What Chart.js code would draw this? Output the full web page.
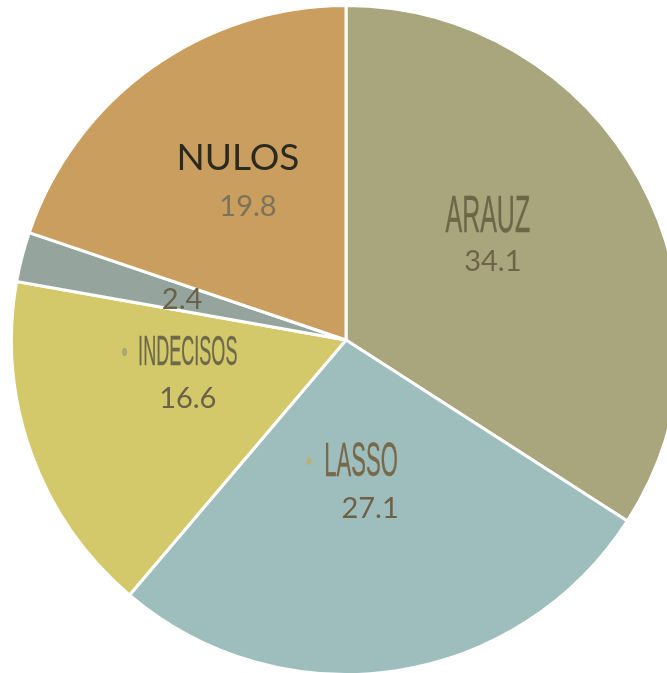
<!DOCTYPE html>
<html>
<head>
<meta charset="utf-8">
<script src="https://cdn.jsdelivr.net/npm/chart.js@4.4.0/dist/chart.umd.min.js"></script>
<style>
html,body{margin:0;padding:0;background:#fff;overflow:hidden;width:667px;height:673px;}
#wrap{position:absolute;left:0;top:0;width:692px;height:680px;}
</style>
</head>
<body>
<div id="wrap"><canvas id="c"></canvas></div>
<script>
// Data
const categories = ["ARAUZ", "LASSO", "INDECISOS", "", "NULOS"];
const values = [34.1, 27.1, 16.6, 2.4, 19.8];
const valueLabels = ["34.1", "27.1", "16.6", "2.4", "19.8"];
const colors = ["#A9A67D", "#9DBEBD", "#D3C96B", "#95A59E", "#C99E5E"];

// Label layout (relative to pie centre, in units of outer radius)
const nameOffsets = [[0.424,-0.365],[0.045,0.365],[-0.473,0.039],null,[-0.323,-0.545]];
const valueOffsets = [[0.439,-0.234],[0.072,0.503],[-0.473,0.174],[-0.490,-0.120],[-0.293,-0.398]];
const dotOffsets = [null,[-0.111,0.362],[-0.662,0.036],null,null];
const nameStyles = [
  {font:"52px 'Liberation Sans'", sx:0.48, color:"#6E6648", lw:0.4},
  {font:"49px 'Liberation Sans'", sx:0.45, color:"#77694A", lw:0.4},
  {font:"42px 'Liberation Sans'", sx:0.43, color:"#6D684A", lw:0.3},
  null,
  {font:"37px Lato", sx:1, color:"#2B2A21", lw:0}
];
const valueColors = ["#6E6548","#6E6146","#6B6048","#6B6048","#7B735A"];
const dotColors = [null,"#BDAF78","#A9A47E",null,null];

const labelPlugin = {
  id: 'labels',
  afterDatasetsDraw(chart) {
    const ctx = chart.ctx;
    const arcs = chart.getDatasetMeta(0).data;
    arcs.forEach((arc, i) => {
      const cx = arc.x, cy = arc.y, R = arc.outerRadius;
      ctx.save();
      ctx.textAlign = 'center';
      ctx.textBaseline = 'middle';
      if (nameOffsets[i] && nameStyles[i]) {
        const st = nameStyles[i];
        const x = cx + nameOffsets[i][0]*R, y = cy + nameOffsets[i][1]*R;
        ctx.save();
        ctx.translate(x, y);
        ctx.scale(st.sx, 1);
        ctx.font = st.font;
        ctx.fillStyle = st.color;
        ctx.fillText(categories[i], 0, 0);
        if (st.lw > 0) {
          ctx.strokeStyle = st.color;
          ctx.lineWidth = st.lw;
          ctx.lineJoin = 'round';
          ctx.strokeText(categories[i], 0, 0);
        }
        ctx.restore();
      }
      if (valueOffsets[i]) {
        const x = cx + valueOffsets[i][0]*R, y = cy + valueOffsets[i][1]*R;
        ctx.font = "29px Lato";
        ctx.fillStyle = valueColors[i];
        ctx.fillText(valueLabels[i], x, y);
      }
      if (dotOffsets[i]) {
        const x = cx + dotOffsets[i][0]*R, y = cy + dotOffsets[i][1]*R;
        ctx.beginPath();
        ctx.ellipse(x, y, 2.5, 4, 0, 0, Math.PI*2);
        ctx.fillStyle = dotColors[i];
        ctx.fill();
      }
      ctx.restore();
    });
  }
};

new Chart(document.getElementById('c'), {
  type: 'pie',
  data: {
    labels: categories,
    datasets: [{
      data: values,
      backgroundColor: colors,
      borderColor: '#ffffff',
      borderWidth: 3
    }]
  },
  options: {
    responsive: true,
    maintainAspectRatio: false,
    animation: false,
    layout: {padding: 4},
    plugins: {legend: {display: false}, tooltip: {enabled: false}}
  },
  plugins: [labelPlugin]
});
</script>
</body>
</html>
